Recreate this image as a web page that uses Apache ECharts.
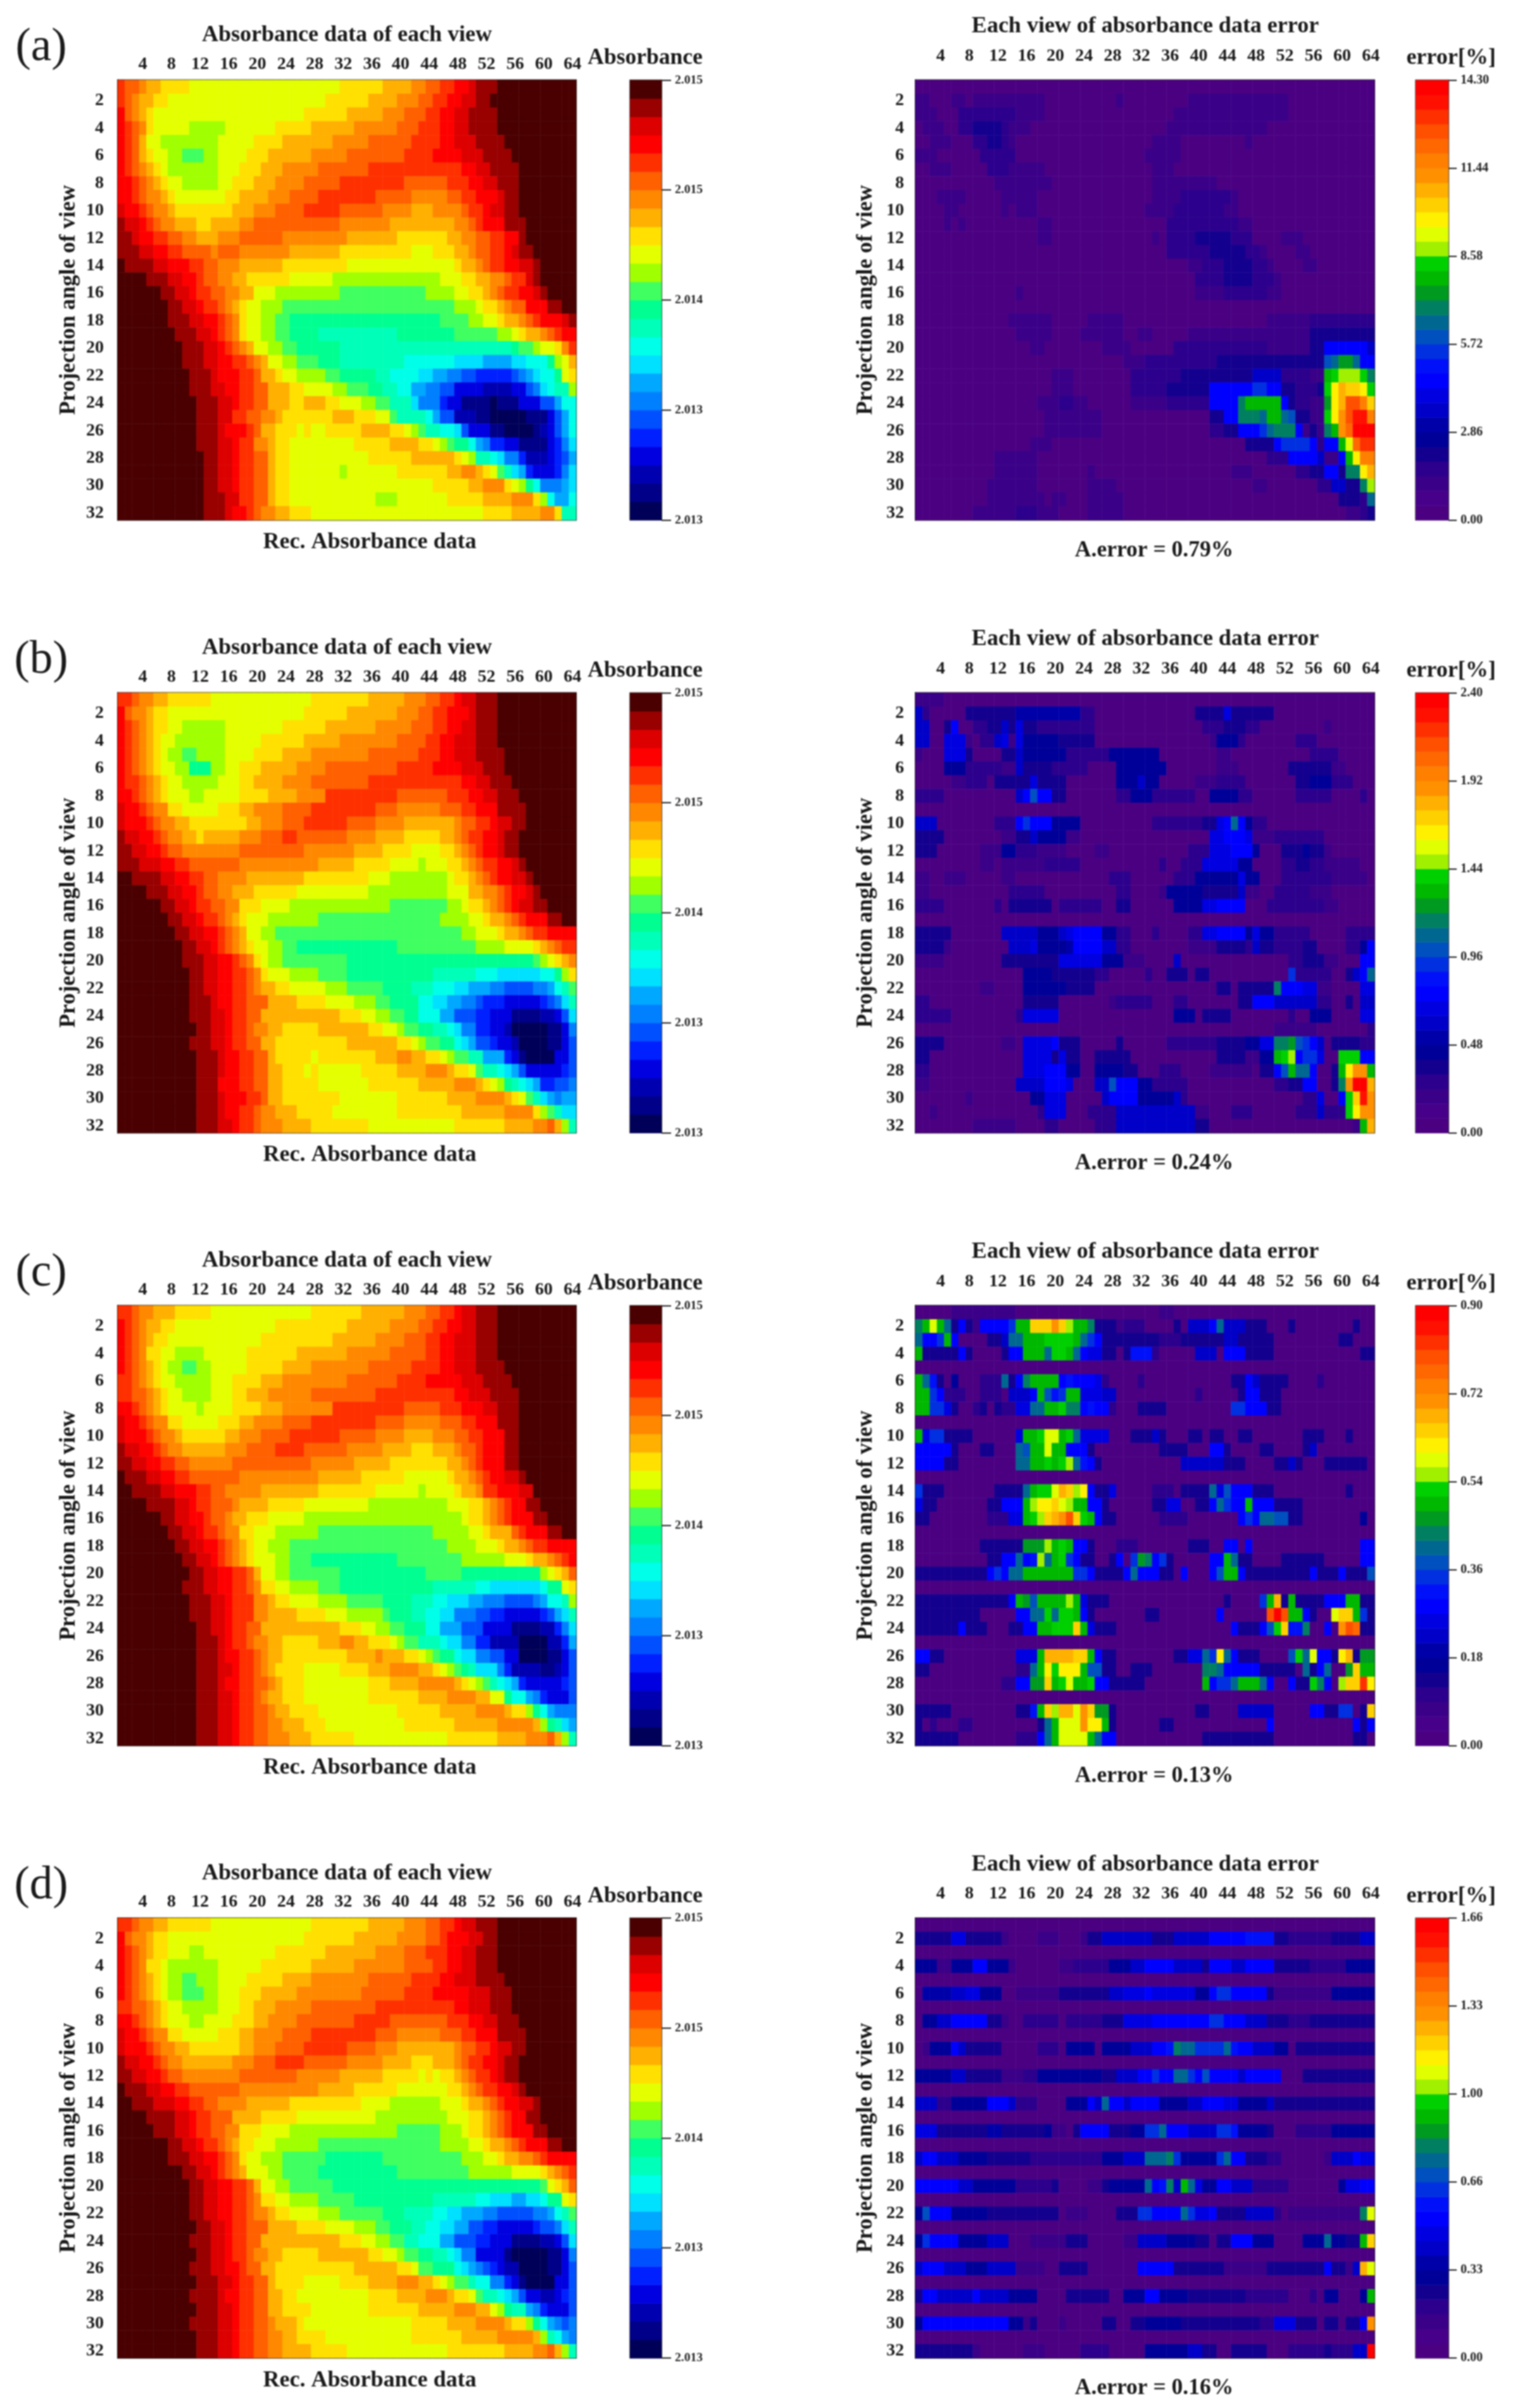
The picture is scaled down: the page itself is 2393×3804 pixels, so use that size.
<!DOCTYPE html>
<html><head><meta charset="utf-8">
<style>html,body{margin:0;padding:0;background:#fff}#c{width:2393px;height:3804px}#c canvas{filter:blur(0.8px)}</style>
<script src="https://cdn.jsdelivr.net/npm/echarts@6/dist/echarts.min.js"></script>
</head><body><div id="c"></div>
<script>
// Every row is a run-length list: letter = colour-band level, number = cells in the run.
const absorbanceA=[
"T1S2R1Q2P4O21P6Q4R2S2T2U2V1W3X11","T1S1R1Q2P2O22P6Q4R3S2T2U2V2W2X12","U1S1R1Q1P1O21P6Q5R3S3T2U2V2W4X11","U1T1S1R1P1O5N5O7P5Q6R6S3T3U2V2W4X11",
"U1T1S1Q1O2N8O5P4Q7R5S6T4U2V3W4X10","U1T1S1Q1P1O2N2M3N2O4P3Q6R5S8T4U4V3W4X9","U1T1S1R1Q1P1O1N7O3P3Q3R5S7T13U2V2W4X8","U2T1S1R1Q1P1O2N5O2P3Q3R4S5T9S6T3U2V2W3X8",
"U2T1S1R2Q1P1O7P2Q4R3S4T8S5R5S2T2U3V1W2X8","V1U2T1S1R2Q1P8Q3R3S4T5S6R4Q3R4S1T2U1V2W2X8","W1V2U1T1S1R2Q3P2Q4R2S12R7Q9R2S1T1U3W3X7","W2V1U2T2S2R2Q3R3S6R9Q7P7Q2R2S2T2U2W1X7",
"W3V2U2T2S4R1S3R7Q7P10O3P3Q2R1S2T2U1V1W2X6","X1W4V2U3T2S2R3Q6P9O15P1Q2R1S1T2U2V2W1X5","X4W3V2U2T1S2R2Q2P6O6N15O3P2Q2R2S1T2V1W1X5","X6W2V2U1T2S2R2Q2O3N9M12N4O2P2Q1R1S1T2U2V1W1X4",
"X7W2V2U1T2S1R1Q1P1O2N3M24N3O1P2Q1R1S2U3W2X2","X7W3V2U2T1S1R1P1O2N2M2L21M4N2O2P1Q2R1S1T1U3V1W1","X8W3V2U1T1S1R1P1O2N2M2L4K11L8M6N2O1P1Q2R1S1T1U2","X9W3V2U1T1S1R1Q1O2N2M2L6K24L1M2N1O2P1R1T1",
"X9W3V2U2T2S1R1Q1O2N2M3L3K9J7I4H4I2J3L1N1O1Q1","X10W3V1U3T2S1Q2P1O2N4M2L5K2J4I2H2G2F2E5F1G1H1I1J2L1O1P1","X10W3V2U2T2S2Q3P2O4N2M3L2K2J2H2G2F2D4C4D2F1G1I1J1K2N1","X11W3V2U1T2S2Q3P2Q3P2O3N2M2K3I1G3E1D2B4A1B3D3F2H1J2",
"X11W3V2T2S2R2Q1P7Q3P3O2M1K4J1H1F2C3B2A5B3D1F1H1J1","X11W3V1U3T1S1Q2P3O1P1O2P5Q4P2O1N1M1K2J2I1F1D3B2A4B1C1D1F1H1J1","X11W3V2U1T2R2Q1P2O9P5Q4P2O1N1M1L2J1H1G1E2D2B4D1E1G1I1","X12W2V2U1T2S2Q1P2O11P6Q6P1O1N1K2J1I1G2E1C3D1E1F1H1",
"X12W2V2U1T2S2Q1P2O7N1O7P7Q2R2Q1P1O1M1K1I1H1E1D3E1G1I1","X12W2V2U1T2S2Q1P2O20P5Q2R3P1O1N1L1J1G3H1I1","X12W3V2T2S2Q1P2O12N3O7P5Q4R3P1N1J1H2J1","X12W3V1U2T1S1R2Q2P3O24P4Q4R2P1K2"];
const absorbanceB=[
"T2S1R2Q2P6O14P8Q5R3S2T2U1V2W3X11","U1S1R2Q1P2O19P6Q7R3S2T2U3V1W3X11","U1T1S1R1Q1P2O2N6O8P6Q7R5S3T2U2V2W3X11","U1T1S1R1Q1P1O2N7O5P6Q5R8S4T2U2V3W3X11",
"U1T1S1R1Q1P1O1N2M2N4O4P4Q4R8S7T3U2V3W4X10","U1T1S1R1Q1P1O2N2L3N2O2P3Q5R4S10T5U4V3W3X10","U1T2S1R1Q1P1O2N5O3P2Q4R4S8T13U2V2W3X9","U2T1S1R1Q1P1O3N2O5P4Q4R4T10S7T3U2V2W3X8",
"V1U2T1S1R2P2O5P3Q2R4S4T9S3R6S3T2U3W4X7","V1U3T1S1R2Q2P8Q2R3S3T6S4R4Q7R1S2T2U1V2W2X7","W1V2U2T1S1R2Q2P1Q5R3S3T2S7R4Q4P5Q2R1S1T2U2V1W2X8","W2V2U2T1S2R8S9R7Q4P4O4P2Q1R1S1T1U2V1W2X8",
"W3V3U2T2S7R11Q5P5O4N1O3P2Q1R1S1T2U2V1W1X7","X2W4V2U2T2S2R4Q8P9O3N8O1P2Q1R1S1T1U2V2W1X6","X4W3V2U2T1S2R2Q3P6O10N11O3Q2R2S1T1U2V1W1X5","X6W2V2U1T2S2R2P3O4N14M8N2O1P2Q1R1S1T1U1V2W2X4",
"X7W2V2U1T2S1R1Q1P1O3N7M17N4O2P1Q2R1S1T1U3W2X2","X8W2V2U2T1S1R1Q1O2N2M26N2O3P1Q2R1S1T2U4","X9W2V2U1T1S1R1Q1P1O2N2M2L14M11N4O4P1Q1R1S1T2","X9W3V2U2T1S1R1P1O1N2M9L26M1N1O1P1Q1R1",
"X10W2V2U2T2S1R1P1O3N4M4L12K6J3I6J2L1N1P1","X10W2V2U2T2S1R1Q2P2O5N3M5L4K3J3I2H3G2F4G2H1J1K1M1","X10W3V1U2T2S3Q4P4O4N3M2L4J2I2H2G2F1E3D5E1F1G1I1K1","X10W3V2U1T2S2Q11P3O2N2M2L2J3H2F3E2D3B4C2D1F1I1",
"X11W2V2U1T2S1R2Q2P5Q7P2O2N1M2L2K2J1I1G2E2D2C1A5B2D1G1","X10W3V2U1T2S2Q2P10Q7P2O1N1M2L2J1I1H1F2E1D2C1A4B2D1F1","X11W3V1U2T2S2Q1P5O1P8Q3R2Q2P2O1N1M2K2H3E1D1B1A4D2F1","X11W3V1U2T2S2Q2P3O1P1O6P5Q4R3Q1P2O1M1K2J1I1H1F1D5E1F1",
"X11W3U3T2S2Q2P5O7P7Q5R3Q1P1O1N1L1K1J1I1H1E2F2G1","X11W3V1U3T2S1Q2P8O8P7Q4R4Q1P1O1M1K1I1H1G1H2","X11W3V1U2T2S1R2Q3P5O9P9Q6R4P1N1M1K1I2","X11W3V2U1T2S1R3Q4P8O12P7Q4R2S1Q1N1K1"];
const absorbanceC=[
"T2S1R2Q3P5O14P7Q6R3S2T2U1V2W3X11","U1T1S1R1Q2P2O14P10Q6R4S2T2U2V2W3X11","U1T1S1R1Q1P2O13P10Q6R4S3T2U2V3W3X11","U1T1S1R1P2O2N4O6P7Q7R6S5T2U2V3W3X11",
"U1T1S1R1Q1P1O1N2M2N2O5P5Q4R8S6T4U2V3W4X10","T2S1R1Q1P1O2N5O3P4Q3R9S7T4U5V3W4X9","T2S2R1Q1P1O2N4O3P2Q3R6S9T11U2V3W4X8","U2T1S1R1Q1P1O4N1O4P4Q3R7T10S5T3U3V2W3X8",
"V1U2T1S1R2P2O5P3Q2R4S4T9S4R5S3T2U3W3X8","V1U3T1S1R2Q1P6Q2R3S4T7S5R4Q4R3S2T2U3W2X8","W1V2U2T1S1R2Q6R3S4T4S6R5Q4P3Q3R1S2T1U3W2X8","W2V2U2T2S2R6S11R6Q5P8Q2R1S1T1U3W2X8",
"X1W3V2U2T2S7R11Q6P6O6P1Q2R1S1T1U2V2W1X7","X2W4V2U3T2S2R5Q8P8O6N1O4P1Q2R1T2U3V2X6","X4W4V2U1T2S3R1Q4P5O9N11O3P2Q1R1S1T1U2W2X5","X6W2V2U2T1S2R1Q2P3O5N22O1P2Q1R1S1T1U3W2X4",
"X7W2V2U1T2S1R2P2O3N6M16N5O2P1Q3S1T1U3W2X2","X8W2V2U2T1S1R1Q1P1O2N3M22N4O3P1Q2R1S1T2U4","X9W2V2U1T1S1R1Q1P1O3N2M3L12M9N6O3P1Q2R1S1T1U1","X10W2V2U2T2S1Q1O2N2M7L12M5L11N1O1P1Q1S1",
"X9W3V2U2T2S1R1P2O2N4M3L13K6J2I7J1L2O1P1","X10W3V2U1T3R2Q1P2O4N4M5L4K3J2I3H2G3F4G1H1J2K1N1","X10W3V2U1T3R2Q4P4O3N5M1L3K2J2I2G3F2E2D5E1F1H1I1K1","X11W2V2U1T2S2Q11P3O2N2M2L3J2H3F3D4B4C2E1G1I1",
"X11W3V1U1T2S1R2Q2P5Q3R2Q2P3O1N1M2K3J1I2G2E2C4A4C2E1H1","X11W3V1U2T2S1R1Q2P9Q4R1Q3P2O1N1M1L2J1I2G2F2D2A4B2D1F1","X11W3V2U1T2S1R1Q1P4O5P4Q3R4Q2P1O1N1M1L1K1I3G1E1C4B2C1D1F1","X11W3V1U2T2S2R1Q1P3O9P3Q4R5Q1P1O1N1M1K1J1I1H1E1D5E1F1",
"X11W3V2U1T2S1R1Q2P3O9P7Q4R4Q2O2L1J2H1G1E1D3F1","X11W3V2U1T2S2R1Q2P4O11P6Q5R4Q1P2N1L1J1H1G3","X11W3V2U1T2S2R2Q3P3O11P7Q6R5Q1N1L1K1I1H1","X11W3V2U1T2S2R3Q3P6O13P7Q4R3S1Q1N1K1"];
const absorbanceD=[
"T2S1R2Q2P6O14P8Q5R3S2T2U1V2W3X11","U1S1R2Q1P2O19P7Q6R4S2T1U3V2W2X11","U1T1S1R1Q1P2O3N2O10P7Q7R4S3T3U2V2W3X11","U1T1S1R1P2O1N7O6P7Q6R7S4T2U2V2W3X11",
"U1T1S1R1Q1P1O1N2M2N3O4P5Q4R8S6T4U2V3W4X10","U1T1S1R1Q1P1O1N2M3N2O3P3Q5R9S6T4U5V3W3X9","T2S2R1Q1P1O2N5O3P2Q3R5S9T11U2V3W3X9","U2T1S1R1Q1P1O3N2O4P3Q2R4S8T5S8T3U2V2W3X8",
"V1U2T1S1R2P2O5P3Q2R4S4T9S3R6S3T2U3W4X7","V1U3T1S1R2Q2P7Q2R3S4T6S4R3Q8R1S2T2U1V2W2X7","W1V2U2T1S1R2Q7R3S3T4S6R5Q4P3Q3R1S1T2U2V1W2X8","W2V2U2T1S2R8S8R6Q6P5O1P1O1P2Q1R1S1T2U1V1W2X8",
"X1W3V2U2T2S7R11Q5P6O7P2Q1R1S1T2U2V1W1X7","X2W3V3U2T2S2R4Q6P10O4N7O3P1Q2R1S1T1U2V2W1X5","X4W4V2U1T2S3Q4P5O11N10O3P2Q1R1S1T1U2W2X5","X5W3V2U1T2S2R2P3O4N15M6N3O1P2Q1R1S1T1U3W2X4",
"X7W2V2U1T2S1R1Q1P2O3N6M17N4O2P1Q2R1S1T1U3W2X2","X7W3V2U2T1S1R1P1O2N3M6L8M11N3O2P1Q2R2S1T1U4","X9W2V2U1T1S1R1Q1O3N2M5L11M10N6O4P1Q1R1S1T1","X10W2V2U2T2S1Q1O2N2M6L29M1O1P1Q1S1",
"X10W2V2U2T2S1R1P2O2N4M5L11K6J2I3H2I2J1L2O1P1","X10W2V2U2T2S1R2Q1P2O4N3M6L3K4J2I2H3G2F5G2H1J1K1M1","X11W2V2U1T2S3Q4P4O4N3M2L3K2J2I2H2F2E2D5E1F2G1I1K1","X10W3V2U1T2S2Q11P3O2N2M2K2J3H2F3E2D3B4C2D1F1I1",
"X11W2V2U1T2S1R2Q2P5Q7P2O2N1M2L2K2J1I1G2D4B1A5B2D1G1","X10W3V2U2T1S2Q2P11Q6P2O1M2L3J1I1H1G1F1E1D1C2A4B2D1F1","X11W3V2U1T2S2Q1P4O5P4Q4R3Q2P1O1N1M2K1J2G2E1D1B1A4D2F1","X10W4V1U2T2S2Q2P2O10P4Q4R3Q1P2O1M1K2J1I1H1F1D2C2D1E1F1",
"X11W3V2U1T2S2Q2P4O8P7Q5R3Q2O1N1L1K2H1G1E1D3F1","X10W4V2U1T2S2R1Q3P1O15P5Q4R4Q1P2N1L1J1H1G1F1G1","X11W3V2U1T2S2R2Q2P4O12P7Q5R5Q1N1K1J1H1G1","X11W3V2U1T2S2R2Q4P5O14P8Q4R2S1Q1N1K1"];
const errorA=[
"A64","C2A3C2A1C10A10C1A9C14A12","C3A3D8C4A18C16A12","A1C3A2D2E4D1C3A19C14A15",
"A2C3A3D2E2D1C1A19C4A9C1A17","C3A6D5A18C5A27","A2C3A5D3C5A15C3A28","A11C8A14C9A22",
"A3C4A5C5A16C4D7C1A19","A4C2A6C1A1C3A15C4D7C2A19","A4C1A1C1A10C2A16D10C2A17","A17C2A14C1A1D4E5D3A4C3A10",
"A35D6E5D2C1A4C2A9","A38C2D3E4D2C1A4C2A8","A39D4E4D3C1A13","A14C1A24C4D6C2A13",
"A64","A13C6A5C5A20C6D9","A14C5A4C6A2C2A5C17E9","A16C2A8C4A6D13C6E2J6H1J1I1",
"A29C3D10E15M1N1P2N1J2","A19C3A8D7E10H4D4C2Q1R1S3R1O1","A19C3A8D5E6J6L2J2E2D3E1R1U1W1V2U1R1","A17C3D2C2A6C5D6J4O1Q5J1E1D2C2P1U1W1a2Y1V1",
"A18C8A15E2J2O3N1Q2N1M1E2C2R1U1X1a1c2Y1","A18C8A15D2E2J3L1N1O3J1C1E1C1O1Q1X1Z1d3","A16C3A27E4J1L4J1D1J2Q1T1Z1b2","A11C6A32D3J4H1C2J1Q1U1Y2",
"A11C6A7C1A19C3A6D2E2J2E1O2U1W1","A10C7A7C4A19C2A7D2H2E2O1S1","A10C8A1C2A3C5A30E3D1N1","A8C6D3C3A4C5A31C2D1E1"];
const errorB=[
"C4A60","H1D1A5E7G9D2A14E4I1E6A14","H2A2E1J1A2D2E2H1E1I1E2D8A15D3E3D2A9C1A6","H2A2I3C1A1D2H1I1C1I1F5E5A16C1F3D1A7D3A8",
"C1A3I3E1A4E2H1F6D6F7A8C2A11D4A5","A4F3D5C2H1E4D5A4F7A7C3A7E6C2A4","A5C2D3A1E5I1E4A7F3H1F2A5C3D4A7E2F3D3A3","D4A10H1J1M1J2E2A7D2F3D6A2F4D2A6D5A4D1A1",
"A64","H3A8D3J1L1J3F4A10D7E2I1J1N1J1F1D2A15","E4A8C2E2H1F4C2A18I2J3I1C3D7A7","E3A6C3F2D3C4A4C2A11D3I3J3F1A3E3F1E2C1A6",
"A9C2A1C6D5A11D1A2D3I5F2A4D2E2D2C5A2","C2A2C3A5C2A13D3A6D3F6I1F2A3D7C5A1","C2A11D5A10D2A4C1F5E5H1C2A2D5C3A6","D4A7D1A1E6A1D6A2E2A6F4I2J4A3D8C2A5",
"A64","E5A7H5F3H1I1J4F2D2A3D1A4D2I2J4F1I1F2D5A5D4","E4C1A8H3I1F4G1J4H2D2A8C4E4D1H1E2D4E2A4D2F1J1","C4A8E8I6F3C3A4H1A15D2E3C2A3J2",
"A15F4E6D2A5D1A2E3A1E2A11L1D5A2E1H1J1N1","A9C2A4F6E4A17E2A1E5O1J3I2C2A4I2","D2A13E5A7C1D5A3D2A7E2J3H6D2A2E1A1H2","D5A9D1I5A16F3A1E4A8D1A2F3A4I2",
"A50C6A7D1","E4A8C2A1I4J1E3A5E1A6D7E4F2I2O2P1M1L1J1H1A1E4D2","E2A13I4E1I1E2A2E5A12E4C2F2Q1R1S1J1L2I1A2R3J2","D2A13I3J3F2A2F4E2A3D3A4C6A1E2J1M1Q1N2J1A2E1Q1U1X2Q1",
"C2A12H4J3I1A3H2M1J3F2D5A12D2E2J2A2E1O1X1d2W1","A7C1A8F2I3A5H1J4F5H1D1A16D2I1A2J1R1V1c1X1","A2C1A14D1I3A3D4H11C2A3D3A6D3H1D3R1U1X2","A8C6A4D2A5D3H11E2A20C1Q1W1"];
const errorC=[
"A5C9A20C2A28","O1Q1T1Q1N1E1J1E1C1J4L1Q2V3X1V1S1Q2O1E3C1D3A4E1A1H3J1N1H3E3A3E1A8E1A2","N1J2L1Q1J1A4E2H1N2Q3R4Q1N1L1J1E8D3E6H2E5A9E2A3","Q1E5J1E1A4E1J2Q3N1R2Q1N1J1I2E2A1E1K3D1A5H3A1J3E4A12E2",
"A64","Q1N1K1E1A1F1A3D3N1E1J1O1Q4J1K1J3I1D1A4D1A12E2J1H1E4A4D1A7","Q2L1J1D3A2D3A1H3J1Q1M1K1L1Q2I3H2A11D1A5E1J2E3A13","Q2L2I1E1A2D1E1A1E1D2I2N2Q2R1O2J1K1J2D1A3E4A9L2J3E2A13",
"A64","Q1I1L2E4A6I1Q2R1T2Q1R1N1I4A3E3H1E1A3E2A1E2A2E2A7E3A3E1A3","J5E1A3E2A3N1M1Q2T1Q2J3E1A9E4A3J2E1A4E2A4E1H1A8","J4E2A8N2Q2R1Q1R1S1N1K1J1E1A11H6E3A4E2H1E1A3E6A1",
"A64","L1E3A7E4N1Q1R2T1W1V1S1U1J1E2I1A5D3A1E4N1I1M1J3E3A10E1A3","I1E2A7E2J3Q1S1U2V1T1S1Q2J2E1A6E2I2A2E2J1N1L1J2Q1J3E4A10","E2A8D3I2Q1R1S1V1W1X1a1V1R1Q1J1E2A6D4A7J1L1J1N2M2E2A8F1A1",
"A64","A9E6P3S1Q1R1Q1J2E1A3D3A7E3A2J2A1J1A15J2","A10E2J2N1J1K1S1N1Q1R1L1J1E2A2E1J1A1L1P1O1J1L1E1A5J2Q1N1E2A4E6A5J2","E10J1L1J1N2Q7L2J1E4J1N1J3E2A1J1A3J1M1Q2J1E9J1E3J1E3M1",
"A64","E13J1Q1P1M1Q4S1Q1I1E3A16E1A4L1Q1W1E1Q1E4J3Q2E2","E9A5J2N2R1N1R2Q1J1E1A7E2A8J1A6a1d1a1Q2J1E1A2T1V2Q1L1E1","E6J1E3A3E2J2Q2R2R1V1Q1I1E3A16J1E3J1M1R1V1K2O1A2J1A1X1a1Z1E2",
"A64","J2E2A10I3Q1W4V2Q1J1E2A8E2I2N1L1U1N1J1E3A4M1R1N1T1J2E1U1W1E1P2","E2A12D2N1Q1U1R1U3Q1M2E2A2E3A7O2N1J5E5A1N1E1J1N1A2P1V1Q2","A12D2J2P2V1Q1R1T1Q2R1J2E2E3A8Q1J1L2N1Q3N1J1A2J1E2R1O1J1A1S1V2b1U1",
"A64","E5A9E2K1Q1V1S1W2T1X1V1P2E1A11E2A4H5A5J2E2L2A1E1V1","E1A1D1A3D2A9E1N1Q1T3X1U2Q1E1A6E2A13J1A11J1E1J1","E6A8D3J1N1Q1T4Q1N1J2A12E10A11E2A1"];
const errorD=[
"A64","E5I2E5C1A4C3A3C1E2H7E3H5J5K4E2D6E4H2","A64","F3C2F3J2F3C1A6C2D5F3H2J4H4E1J3H2J4E5D5F4",
"A64","A1G4H2I2F3A2C6E7H2I3J1I6F2J1L2J5E1C8F6","A64","A1F2H2J5E2C1A2D5A1D5E3I4J8L2J3H3E3D3E9",
"A64","A1C1F3J1H1E5A5D3A1F4A1F4H3J2K1O1N2L4N1K1J2H3F2A1E11","A64","F5H2E5C3D2F9E2H3J2L1J2N2L1J1M1J4H1J5A3E10",
"A64","H3D2F5J3H1D3A4F3J1H1N1J2H1J4F4H2J3I2F4H1E14","A64","I3E7G2E6F1C2A1E1J4E3F2L2N1J3H4L2K1F4E1A3D5F6",
"A64","H1J2H3F4E6D10F3H3N3O1L1F5L1N1J2E3D2A6C1H3J1I2","A64","J6H2F6D5E1A4C2E1F5N1J1K1O1H1Q1N1I1F2J2H3D5A7F1I2J2",
"A64","F1M1J3F5E10A1C3A4E3L2J4N1L1I2J1E4H4D1A1C10O1T1","A64","F1L1J4F4H3A3C5E3A5C2H4F4E2A1E2J3F3A4F3N1F2E2Q1V1",
"A64","H1J3H3F3H4C4A2E4A7J5E7C6E7E1J1E2C1H1W1T1","A64","E1J2H5J1H4F4A4E6A2F3J2F4E8D6A3D1A1F2A3F1Q1",
"A64","F1J12F2C1E1A3C1A5E2A2E2F5E11D2I3E3A1E2A1E2J1X1","A64","E8C1A6C3A5D4A5F6H2E2A2E5A3D5E1D3H2d1"];

const absorbanceColors=["#000058","#000088","#0000b0","#0000e0","#0020ff","#0050ff","#0080ff","#00a8ff","#00e0ff","#00ffe8","#00ffb8","#00ff90","#40ff60","#a0ff00","#e4ff00","#ffe000","#ffb000","#ff8800","#ff6000","#ff3000","#ff0000","#dd0000","#990000","#4a0000"];
const errorColors=["#4b0082","#46008a","#3a0088","#2c008c","#14008e","#000098","#0000a8","#0000c8","#0000e0","#0000ff","#0010f8","#0030e0","#0050c0","#006890","#008060","#009a20","#00b800","#00d000","#a0f000","#e0ff00","#fff000","#ffd000","#ffb000","#ff9000","#ff8000","#ff6800","#ff5000","#ff3000","#ff1000","#ff0000"];
const ABS_LETTERS="ABCDEFGHIJKLMNOPQRSTUVWX";
const ERR_LETTERS="ABCDEFGHIJKLMNOPQRSTUVWXYZabcd";
const absorbanceTicks=["2.013","2.013","2.014","2.015","2.015"];
const errorTicksA=["0.00","2.86","5.72","8.58","11.44","14.30"];
const errorTicksB=["0.00","0.48","0.96","1.44","1.92","2.40"];
const errorTicksC=["0.00","0.18","0.36","0.54","0.72","0.90"];
const errorTicksD=["0.00","0.33","0.66","1.00","1.33","1.66"];
const averageErrors=["A.error = 0.79%","A.error = 0.24%","A.error = 0.13%","A.error = 0.16%"];
const panelLetters=["(a)","(b)","(c)","(d)"];
const columns=[];for(let i=1;i<=64;i++)columns.push(String(i));
const angles=[];for(let i=1;i<=32;i++)angles.push(String(i));

const panels=[
 {abs:absorbanceA,err:errorA,errTicks:errorTicksA,errMax:14.30,top:126.5},
 {abs:absorbanceB,err:errorB,errTicks:errorTicksB,errMax:2.40,top:1094.5},
 {abs:absorbanceC,err:errorC,errTicks:errorTicksC,errMax:0.90,top:2062.5},
 {abs:absorbanceD,err:errorD,errTicks:errorTicksD,errMax:1.66,top:3030}
];
const FONT="Liberation Serif";
const H=695;
function decode(rows,letters,min,max){
  const n=letters.length,step=(max-min)/n,out=[];
  rows.forEach((row,y)=>{
    let x=0;
    for(const m of row.matchAll(/([A-Za-z])(\d+)/g)){
      const lev=letters.indexOf(m[1]);
      for(let k=0;k<+m[2]&&x<64;k++,x++)out.push([x,y,min+(lev+0.5)*step]);
    }
  });
  return out;
}
const option={animation:false,backgroundColor:"#fff",grid:[],xAxis:[],yAxis:[],series:[],visualMap:[],graphic:[]};
function text(t,x,y,size,extra,weight){
  option.graphic.push(Object.assign({type:"text",x:x,y:y,silent:true,style:{text:t,font:(weight||"bold")+" "+size+"px '"+FONT+"'",fill:"#1a1a1a",align:"center",verticalAlign:"middle"}},extra||{}));
}
function heat(left,width,top,rows,letters,colors,min,max,opt){
  const g=option.grid.length;
  option.grid.push({left:left,top:top,width:width,height:H,show:true,borderColor:"#111",borderWidth:2,backgroundColor:"transparent"});
  option.xAxis.push({gridIndex:g,type:"category",position:"top",data:columns,
    axisLine:{show:true,lineStyle:{color:"#111",width:2}},
    axisTick:{alignWithLabel:true,length:opt.xTick,interval:i=>(i+1)%4===0,lineStyle:{color:"#111",width:2}},
    axisLabel:{interval:i=>(i+1)%4===0,margin:opt.xMargin,fontFamily:FONT,fontWeight:"bold",fontSize:28,color:"#1a1a1a",hideOverlap:false},splitLine:{show:false}});
  option.yAxis.push({gridIndex:g,type:"category",inverse:true,data:angles,
    axisLine:{show:true,lineStyle:{color:"#111",width:2}},
    axisTick:{alignWithLabel:true,length:opt.yTick,interval:i=>(i+1)%2===0,lineStyle:{color:"#111",width:2}},
    axisLabel:{interval:i=>(i+1)%2===0,margin:opt.yMargin,fontFamily:FONT,fontWeight:"bold",fontSize:28,color:"#1a1a1a",hideOverlap:false},splitLine:{show:false}});
  const idx=option.series.length;
  option.series.push({type:"heatmap",xAxisIndex:g,yAxisIndex:g,data:decode(rows,letters,min,max),progressive:0,itemStyle:{borderWidth:0},emphasis:{disabled:true}});
  const step=(max-min)/colors.length;
  option.visualMap.push({type:"piecewise",show:false,seriesIndex:idx,pieces:colors.map((c,i)=>({gte:min+i*step,lt:min+(i+1)*step+(i===colors.length-1?step:0),color:c}))});
}
function bar(left,width,top,colors,min,max,ticks,opt){
  const g=option.grid.length;
  option.grid.push({left:left,top:top,width:width,height:H,show:true,borderColor:"#333",borderWidth:1.5,backgroundColor:"transparent"});
  option.xAxis.push({gridIndex:g,type:"category",data:["bar"],show:false});
  const interval=(max-min)/(ticks.length-1);
  option.yAxis.push({gridIndex:g,type:"value",position:"right",min:min,max:max,interval:interval,
    axisLine:{show:true,lineStyle:{color:"#333",width:1.5}},axisTick:{show:true,length:opt.tick,lineStyle:{color:"#222",width:2}},splitLine:{show:false},
    axisLabel:{margin:opt.margin,fontFamily:FONT,fontWeight:"bold",fontSize:opt.size,color:"#222",showMinLabel:true,showMaxLabel:true,
      formatter:(v)=>ticks[Math.round((v-min)/interval)]}});
  const step=(max-min)/colors.length;
  option.series.push({type:"custom",xAxisIndex:g,yAxisIndex:g,silent:true,clip:false,
    data:colors.map((c,i)=>[0,min+i*step,min+(i+1)*step,i]),encode:{x:0,y:[1,2]},
    renderItem:(p,api)=>{
      const a=api.coord([0,api.value(1)]),b=api.coord([0,api.value(2)]),w=api.size([1,0])[0];
      return {type:"rect",shape:{x:a[0]-w/2,y:b[1],width:w,height:a[1]-b[1]+0.5},style:{fill:colors[api.value(3)]}};
    }});
}
panels.forEach((p,i)=>{
  const t=p.top,d=t-126.5;
  heat(186,724,t,p.abs,ABS_LETTERS,absorbanceColors,2.013,2.015,{xTick:14,xMargin:11,yTick:15,yMargin:22});
  bar(995,50,t,absorbanceColors,2.013,2.015,absorbanceTicks,{tick:15,margin:21,size:19.5});
  heat(1446,725,t,p.err,ERR_LETTERS,errorColors,0,p.errMax,{xTick:12,xMargin:24,yTick:14,yMargin:18});
  bar(2236,52,t,errorColors,0,p.errMax,p.errTicks,{tick:13,margin:19,size:20});
  text(panelLetters[i],65,76+d,73,null,"normal");
  text("Absorbance data of each view",548,56+d,36);
  text("Absorbance",1019,92+d,35.5);
  text("Rec. Absorbance data",584,857+d,36);
  text("Projection angle of view",109,474+d,35.5,{rotation:Math.PI/2});
  text("Each view of absorbance data error",1809,42+d,36);
  text("error[%]",2292,92+d,36);
  text(averageErrors[i],1823,869.5+d,35.5);
  text("Projection angle of view",1368,474+d,35.5,{rotation:Math.PI/2});
});
const chart=echarts.init(document.getElementById("c"),null,{renderer:"canvas",width:2393,height:3804});
chart.setOption(option);
</script></body></html>
